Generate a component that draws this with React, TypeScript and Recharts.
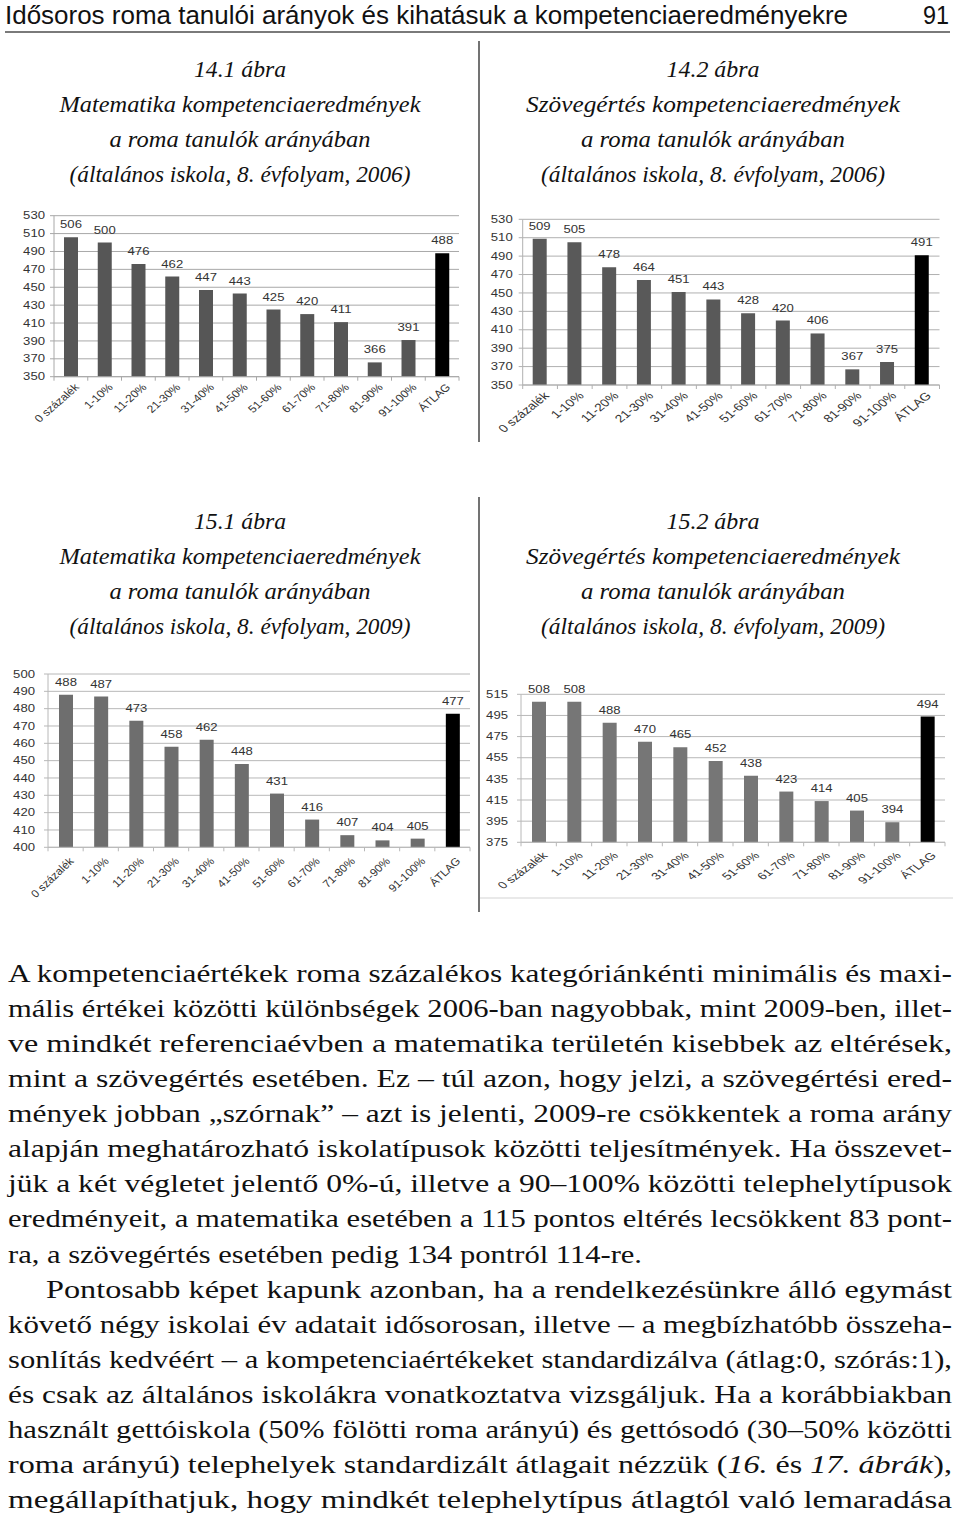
import React from 'react';
import { BarChart, Bar, XAxis, YAxis, CartesianGrid, Cell, LabelList } from 'recharts';

// categories (roma share of pupils per school site)
const categories = ['0 százalék', '1-10%', '11-20%', '21-30%', '31-40%', '41-50%', '51-60%', '61-70%', '71-80%', '81-90%', '91-100%', 'ÁTLAG'];

// competence results, 8th grade
const math2006 = [506, 500, 476, 462, 447, 443, 425, 420, 411, 366, 391, 488];
const read2006 = [509, 505, 478, 464, 451, 443, 428, 420, 406, 367, 375, 491];
const math2009 = [488, 487, 473, 458, 462, 448, 431, 416, 407, 404, 405, 477];
const read2009 = [508, 508, 488, 470, 465, 452, 438, 423, 414, 405, 394, 494];

// y axis ticks
const ticks2006 = [350, 370, 390, 410, 430, 450, 470, 490, 510, 530];
const ticksMath2009 = [400, 410, 420, 430, 440, 450, 460, 470, 480, 490, 500];
const ticksRead2009 = [375, 395, 415, 435, 455, 475, 495, 515];

const headerTitle = 'Idősoros roma tanulói arányok és kihatásuk a kompetenciaeredményekre';
const pageNumber = '91';

const captionsTopLeft = ['14.1 ábra', 'Matematika kompetenciaeredmények', 'a roma tanulók arányában', '(általános iskola, 8. évfolyam, 2006)'];
const captionsTopRight = ['14.2 ábra', 'Szövegértés kompetenciaeredmények', 'a roma tanulók arányában', '(általános iskola, 8. évfolyam, 2006)'];
const captionsBottomLeft = ['15.1 ábra', 'Matematika kompetenciaeredmények', 'a roma tanulók arányában', '(általános iskola, 8. évfolyam, 2009)'];
const captionsBottomRight = ['15.2 ábra', 'Szövegértés kompetenciaeredmények', 'a roma tanulók arányában', '(általános iskola, 8. évfolyam, 2009)'];
const captionWidthsLeft = [92, 361, 261, 341];
const captionWidthsRight = [93, 374, 264, 344];

// body text, one entry per printed line; _x_ = italic
const bodyLines = [
  'A kompetenciaértékek roma százalékos kategóriánkénti minimális és maxi-',
  'mális értékei közötti különbségek 2006-ban nagyobbak, mint 2009-ben, illet-',
  've mindkét referenciaévben a matematika területén kisebbek az eltérések,',
  'mint a szövegértés esetében. Ez – túl azon, hogy jelzi, a szövegértési ered-',
  'mények jobban „szórnak” – azt is jelenti, 2009-re csökkentek a roma arány',
  'alapján meghatározható iskolatípusok közötti teljesítmények. Ha összevet-',
  'jük a két végletet jelentő 0%-ú, illetve a 90–100% közötti telephelytípusok',
  'eredményeit, a matematika esetében a 115 pontos eltérés lecsökkent 83 pont-',
  'ra, a szövegértés esetében pedig 134 pontról 114-re.',
  'Pontosabb képet kapunk azonban, ha a rendelkezésünkre álló egymást',
  'követő négy iskolai év adatait idősorosan, illetve – a megbízhatóbb összeha-',
  'sonlítás kedvéért – a kompetenciaértékeket standardizálva (átlag:0, szórás:1),',
  'és csak az általános iskolákra vonatkoztatva vizsgáljuk. Ha a korábbiakban',
  'használt gettóiskola (50% fölötti roma arányú) és gettósodó (30–50% közötti',
  'roma arányú) telephelyek standardizált átlagait nézzük (_16._ és _17. ábrák_),',
  'megállapíthatjuk, hogy mindkét telephelytípus átlagtól való lemaradása',
];
const shortLines: Record<number, number> = { 8: 634 };
const indentLines: Record<number, number> = { 9: 38 };

const chartFont = 'Liberation Sans, Arial, sans-serif';
const textColor = '#333';
const SX = 1.25;

const Panel = ({ values, ticks, box, plot, barColor, gridColor, yGap, xDrop, xFont, xSx }: any) => {
  const data = categories.map((c, i) => ({ cat: c, value: values[i] }));
  const bw = (plot.right - plot.left) / categories.length;
  const width = box.right - box.left;
  const height = box.bottom - box.top;

  const XTick = (p: any) => {
    const { x, y, payload, index } = p;
    return (
      <g>
        <line x1={x - bw / 2} x2={x - bw / 2} y1={y} y2={y + 4} stroke={gridColor} />
        {index === categories.length - 1 && <line x1={x + bw / 2} x2={x + bw / 2} y1={y} y2={y + 4} stroke={gridColor} />}
        <g transform={`translate(${x + 3},${y + xDrop}) scale(${xSx},1) rotate(-45)`}>
          <text textAnchor="end" dy="0.7em" fontSize={xFont} fontFamily={chartFont} fill={textColor}>
            {payload.value}
          </text>
        </g>
      </g>
    );
  };

  const YTick = (p: any) => {
    const { x, y, payload } = p;
    return (
      <g>
        <line x1={x - 4} x2={x} y1={y} y2={y} stroke={gridColor} />
        <g transform={`translate(${x - yGap},${y}) scale(${SX},1)`}>
          <text textAnchor="end" dy="0.35em" fontSize={10.5} fontFamily={chartFont} fill={textColor}>
            {payload.value}
          </text>
        </g>
      </g>
    );
  };

  const BarLabel = (p: any) => {
    const { x, y, width: w, value } = p;
    return (
      <g transform={`translate(${x + w / 2},${y - 9}) scale(${SX},1)`}>
        <text textAnchor="middle" fontSize={10.5} fontFamily={chartFont} fill={textColor}>
          {value}
        </text>
      </g>
    );
  };

  return (
    <div style={{ position: 'absolute', left: box.left, top: box.top }}>
      <BarChart
        width={width}
        height={height}
        data={data}
        margin={{ top: plot.top - box.top, right: box.right - plot.right, bottom: 0, left: 0 }}
      >
        <CartesianGrid vertical={false} stroke={gridColor} />
        <XAxis
          dataKey="cat"
          interval={0}
          height={box.bottom - plot.bottom}
          tickLine={false}
          tickSize={0}
          tickMargin={0}
          axisLine={{ stroke: gridColor }}
          tick={XTick}
        />
        <YAxis
          type="number"
          domain={[ticks[0], ticks[ticks.length - 1]]}
          ticks={ticks}
          interval={0}
          width={plot.left - box.left}
          tickLine={false}
          tickSize={0}
          tickMargin={0}
          axisLine={{ stroke: gridColor }}
          tick={YTick}
        />
        <Bar dataKey="value" barSize={14} isAnimationActive={false}>
          {data.map((d, i) => (
            <Cell key={i} fill={d.cat === 'ÁTLAG' ? '#000' : barColor} />
          ))}
          <LabelList dataKey="value" content={BarLabel} />
        </Bar>
      </BarChart>
    </div>
  );
};

const Caption = ({ lines, widths, cx, base }: { lines: string[]; widths: number[]; cx: number; base: number }) => (
  <>
    {lines.map((t, i) => (
      <text
        key={i}
        x={cx}
        y={base + i * 35}
        textAnchor="middle"
        fontFamily="Liberation Serif, Times New Roman, serif"
        fontStyle="italic"
        fontSize={23}
        fill="#111"
        textLength={widths[i]}
        lengthAdjust="spacingAndGlyphs"
      >
        {t}
      </text>
    ))}
  </>
);

const BodyLine = ({ line, i }: { line: string; i: number }) => {
  const indent = indentLines[i] || 0;
  const len = shortLines[i] || 944 - indent;
  const parts = line.split(/(_[^_]+_)/).filter((s) => s.length);
  return (
    <text
      x={8 + indent}
      y={981.7 + i * 35.1}
      fontFamily="Liberation Serif, Times New Roman, serif"
      fontSize={26}
      fill="#111"
      textLength={len}
      lengthAdjust="spacingAndGlyphs"
    >
      {parts.map((s, k) =>
        s.startsWith('_') ? (
          <tspan key={k} fontStyle="italic">
            {s.slice(1, -1)}
          </tspan>
        ) : (
          <tspan key={k}>{s}</tspan>
        )
      )}
    </text>
  );
};

const App = () => {
  return (
    <div style={{ position: 'absolute', left: 0, top: 0, width: 960, height: 1521, background: '#fff', overflow: 'hidden' }}>
      <svg width={960} height={1521} style={{ position: 'absolute', left: 0, top: 0 }}>
        <text
          x={5}
          y={24}
          fontFamily="Liberation Sans, Arial, sans-serif"
          fontSize={26}
          fill="#111"
          textLength={843}
          lengthAdjust="spacingAndGlyphs"
        >
          {headerTitle}
        </text>
        <text x={949} y={24} textAnchor="end" fontFamily="Liberation Sans, Arial, sans-serif" fontSize={26} fill="#111" textLength={26} lengthAdjust="spacingAndGlyphs">
          {pageNumber}
        </text>
        <line x1={5} x2={950} y1={32} y2={32} stroke="#7a7a7a" strokeWidth={2} />
        <line x1={479} x2={479} y1={41} y2={442} stroke="#444" strokeWidth={1.5} />
        <line x1={479} x2={479} y1={497} y2={912} stroke="#444" strokeWidth={1.5} />
        <line x1={480} x2={953} y1={898} y2={898} stroke="#e2e2e2" strokeWidth={1.5} />
        <Caption lines={captionsTopLeft} widths={captionWidthsLeft} cx={240} base={77} />
        <Caption lines={captionsTopRight} widths={captionWidthsRight} cx={713} base={77} />
        <Caption lines={captionsBottomLeft} widths={captionWidthsLeft} cx={240} base={529} />
        <Caption lines={captionsBottomRight} widths={captionWidthsRight} cx={713} base={529} />
        {bodyLines.map((line, i) => (
          <BodyLine key={i} line={line} i={i} />
        ))}
      </svg>

      <Panel
        values={math2006}
        ticks={ticks2006}
        box={{ left: 0, top: 200, right: 470, bottom: 445 }}
        plot={{ left: 54, top: 215.7, right: 459, bottom: 376.7 }}
        barColor="#565656"
        gridColor="#a8a8a8"
        yGap={9}
        xDrop={6}
        xFont={10.5}
        xSx={1.15}
      />
      <Panel
        values={read2006}
        ticks={ticks2006}
        box={{ left: 480, top: 200, right: 960, bottom: 445 }}
        plot={{ left: 522.7, top: 219.3, right: 939.5, bottom: 385 }}
        barColor="#595959"
        gridColor="#b0b0b0"
        yGap={10}
        xDrop={6}
        xFont={11}
        xSx={1.25}
      />
      <Panel
        values={math2009}
        ticks={ticksMath2009}
        box={{ left: 0, top: 660, right: 478, bottom: 910 }}
        plot={{ left: 48, top: 674, right: 470, bottom: 847.3 }}
        barColor="#6e6e6e"
        gridColor="#b8b8b8"
        yGap={13}
        xDrop={9}
        xFont={11}
        xSx={1.05}
      />
      <Panel
        values={read2009}
        ticks={ticksRead2009}
        box={{ left: 482, top: 660, right: 960, bottom: 910 }}
        plot={{ left: 521, top: 694.3, right: 945, bottom: 842.3 }}
        barColor="#767676"
        gridColor="#b8b8b8"
        yGap={13}
        xDrop={9}
        xFont={10}
        xSx={1.35}
      />
    </div>
  );
};

export default App;
